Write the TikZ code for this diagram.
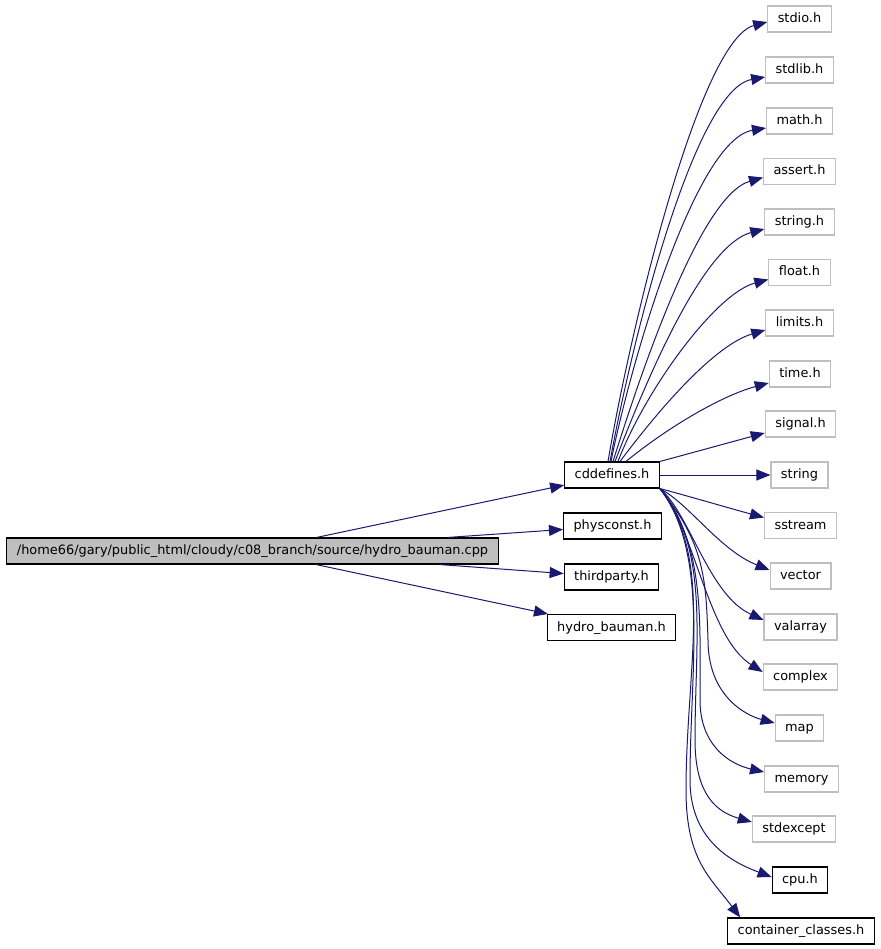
\documentclass[tikz,border=0pt]{standalone}
\usepackage{fontspec}
\setmainfont{DejaVu Sans}
\usetikzlibrary{arrows.meta}
\definecolor{edgeblue}{RGB}{25,25,112}
\definecolor{sysgray}{RGB}{191,191,191}
\definecolor{mainfill}{RGB}{191,191,191}
\tikzset{
  filebox/.style={rectangle, draw=black, fill=white, line width=1.1pt,
    minimum height=26pt, inner xsep=10pt, inner ysep=0pt,
    text height=9.5pt, text depth=2.5pt, font=\fontsize{12.9}{15}\selectfont},
  sysbox/.style={filebox, draw=sysgray},
  mainbox/.style={filebox, fill=mainfill},
  arrow/.style={-{Triangle[length=14pt,width=11pt]}, line width=1pt, color=edgeblue}
}
\begin{document}
\begin{tikzpicture}[x=1pt, y=-1pt]
  \useasboundingbox (0,0) rectangle (880,949);

  % Source file
  \node[mainbox] (main) at (252.5,551) {/home66/gary/public\_html/cloudy/c08\_branch/source/hydro\_bauman.cpp};

  % Direct includes
  \node[filebox] (cddef) at (612,475) {cddefines.h};
  \node[filebox] (physconst) at (612.5,526) {physconst.h};
  \node[filebox] (thirdparty) at (611.5,577) {thirdparty.h};
  \node[filebox] (hydro) at (611.5,627.5) {hydro\_bauman.h};

  % Headers pulled in by cddefines.h
  \node[sysbox] (stdio) at (799.5,19) {stdio.h};
  \node[sysbox] (stdlib) at (799.5,70) {stdlib.h};
  \node[sysbox] (math) at (799.5,121) {math.h};
  \node[sysbox] (assert) at (799.5,171.5) {assert.h};
  \node[sysbox] (stringh) at (799.5,222) {string.h};
  \node[sysbox] (float) at (799.5,272.5) {float.h};
  \node[sysbox] (limits) at (799.5,323) {limits.h};
  \node[sysbox] (time) at (800,374) {time.h};
  \node[sysbox] (signal) at (800.5,424) {signal.h};
  \node[sysbox] (string) at (799.5,475) {string};
  \node[sysbox] (sstream) at (800.5,525.5) {sstream};
  \node[sysbox] (vector) at (800.5,576) {vector};
  \node[sysbox] (valarray) at (800.5,627) {valarray};
  \node[sysbox] (complex) at (800.5,677) {complex};
  \node[sysbox] (map) at (799.5,728) {map};
  \node[sysbox] (memory) at (801.5,779) {memory};
  \node[sysbox] (stdexcept) at (794,829) {stdexcept};
  \node[filebox] (cpu) at (800,880) {cpu.h};
  \node[filebox] (container) at (801,931) {container\_classes.h};

  % Edges from the source file
  \draw[arrow] (main) -- (cddef);
  \draw[arrow] (main) -- (physconst);
  \draw[arrow] (main) -- (thirdparty);
  \draw[arrow] (main) -- (hydro);

  % Upper fan
  \draw[arrow] ([xshift=-4pt]cddef.north) .. controls +(22,-131) and +(-68,18) .. ([yshift=-3pt]stdio.west);
  \draw[arrow] ([xshift=-2pt]cddef.north) .. controls +(22,-121) and +(-71,13) .. ([yshift=-7pt]stdlib.west);
  \draw[arrow] ([xshift=-1pt]cddef.north) .. controls +(19,-96) and +(-71,12) .. ([yshift=-7pt]math.west);
  \draw[arrow] ([xshift=1pt]cddef.north) .. controls +(27,-86) and +(-63,18) .. ([yshift=-6pt]assert.west);
  \draw[arrow] ([xshift=3pt]cddef.north) .. controls +(35,-91) and +(-60,16) .. ([yshift=-7pt]stringh.west);
  \draw[arrow] ([xshift=6pt]cddef.north) .. controls +(27,-71) and +(-53,14) .. ([yshift=-7pt]float.west);
  \draw[arrow] ([xshift=8pt]cddef.north) .. controls +(42,-56) and +(-50,15) .. ([yshift=-7pt]limits.west);
  \draw[arrow] ([xshift=14pt]cddef.north) .. controls +(44,-36) and +(-45,12) .. ([yshift=-9pt]time.west);
  \draw[arrow] (cddef.north east) .. controls +(30,-8) and +(-30,8) .. ([yshift=-9pt]signal.west);
  \draw[arrow] (cddef) -- (string);

  % Lower fan
  \draw[arrow] (cddef.south east) .. controls +(30,8) and +(-30,-8) .. ([yshift=8pt]sstream.west);
  \draw[arrow] (cddef.south east) .. controls +(30,16) and +(-50,-20) .. ([yshift=6pt]vector.west);
  \draw[arrow] (cddef.south east) .. controls +(30,25) and +(-55,-25) .. ([yshift=7pt]valarray.west);
  \draw[arrow] (cddef.south east) .. controls +(35,40) and +(-55,-35) .. ([yshift=5pt]complex.west);
  \draw[arrow] (cddef.south east) .. controls +(45,55) and +(-2,-60) .. (708,640)
    .. controls +(0,55) and +(-30,-8) .. ([yshift=5pt]map.west);
  \draw[arrow] (cddef.south east) .. controls +(45,55) and +(0,-80) .. (700,700)
    .. controls +(0,45) and +(-35,-8) .. ([yshift=7pt]memory.west);
  \draw[arrow] (cddef.south east) .. controls +(50,60) and +(0,-100) .. (695,740)
    .. controls +(0,55) and +(-35,-10) .. ([yshift=7pt]stdexcept.west);
  \draw[arrow] (cddef.south east) .. controls +(50,65) and +(0,-110) .. (690,780)
    .. controls +(0,60) and +(-40,-15) .. ([yshift=3pt]cpu.west);
  \draw[arrow] (cddef.south east) .. controls +(55,70) and +(0,-120) .. (686,790)
    .. controls +(0,70) and +(-30,-40) .. ([xshift=13pt]container.north west);
\end{tikzpicture}
\end{document}
